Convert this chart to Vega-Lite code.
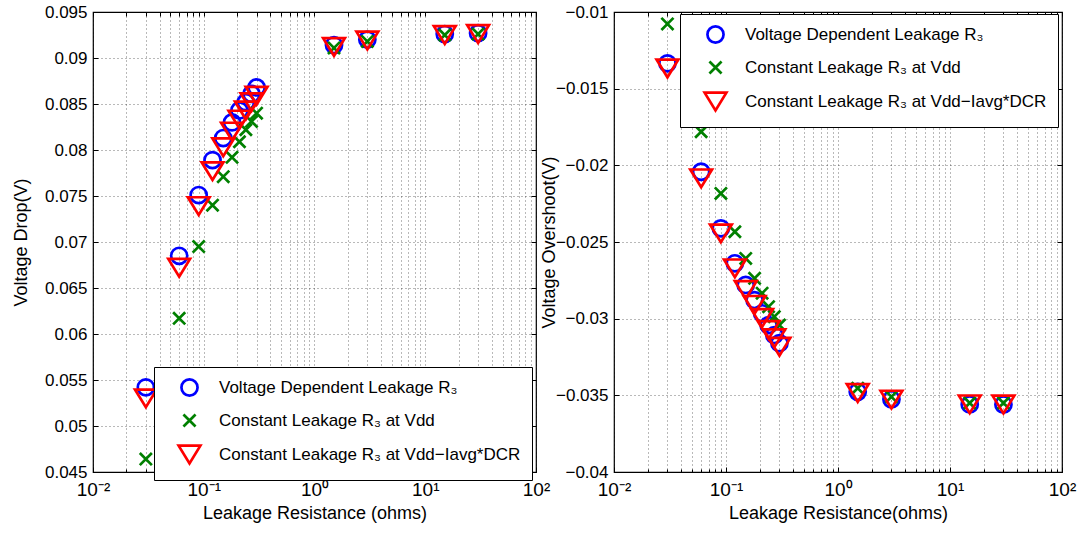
{
  "$schema": "https://vega.github.io/schema/vega-lite/v6.json",
  "padding": {"left": 11, "top": 2, "right": 0, "bottom": 0},
  "bounds": "flush",
  "spacing": 78,
  "resolve": {"scale": {"color": "independent", "shape": "independent"}, "legend": {"color": "independent", "shape": "independent"}},
  "data": {"values": [
    {"r": 0.03, "s": "vdep", "drop": 0.0542, "over": -0.01335},
    {"r": 0.06, "s": "vdep", "drop": 0.0685, "over": -0.02042},
    {"r": 0.09, "s": "vdep", "drop": 0.0751, "over": -0.02411},
    {"r": 0.12, "s": "vdep", "drop": 0.0789, "over": -0.02639},
    {"r": 0.15, "s": "vdep", "drop": 0.0813, "over": -0.0278},
    {"r": 0.18, "s": "vdep", "drop": 0.0830, "over": -0.02879},
    {"r": 0.21, "s": "vdep", "drop": 0.0843, "over": -0.02965},
    {"r": 0.24, "s": "vdep", "drop": 0.0852, "over": -0.03042},
    {"r": 0.27, "s": "vdep", "drop": 0.0861, "over": -0.03107},
    {"r": 0.3, "s": "vdep", "drop": 0.0868, "over": -0.0316},
    {"r": 1.5, "s": "vdep", "drop": 0.0914, "over": -0.03477},
    {"r": 3, "s": "vdep", "drop": 0.0920, "over": -0.03526},
    {"r": 15, "s": "vdep", "drop": 0.0926, "over": -0.03559},
    {"r": 30, "s": "vdep", "drop": 0.0927, "over": -0.0356},
    {"r": 0.03, "s": "cvdd", "drop": 0.0464, "over": -0.01078},
    {"r": 0.06, "s": "cvdd", "drop": 0.0617, "over": -0.01781},
    {"r": 0.09, "s": "cvdd", "drop": 0.0695, "over": -0.02183},
    {"r": 0.12, "s": "cvdd", "drop": 0.0740, "over": -0.02433},
    {"r": 0.15, "s": "cvdd", "drop": 0.0771, "over": -0.02607},
    {"r": 0.18, "s": "cvdd", "drop": 0.0792, "over": -0.02737},
    {"r": 0.21, "s": "cvdd", "drop": 0.0809, "over": -0.02834},
    {"r": 0.24, "s": "cvdd", "drop": 0.0822, "over": -0.02922},
    {"r": 0.27, "s": "cvdd", "drop": 0.0831, "over": -0.02987},
    {"r": 0.3, "s": "cvdd", "drop": 0.0840, "over": -0.03042},
    {"r": 1.5, "s": "cvdd", "drop": 0.0911, "over": -0.03453},
    {"r": 3, "s": "cvdd", "drop": 0.0918, "over": -0.0351},
    {"r": 15, "s": "cvdd", "drop": 0.0925, "over": -0.0355},
    {"r": 30, "s": "cvdd", "drop": 0.0926, "over": -0.0355},
    {"r": 0.03, "s": "cvddi", "drop": 0.0530, "over": -0.01368},
    {"r": 0.06, "s": "cvddi", "drop": 0.0672, "over": -0.02085},
    {"r": 0.09, "s": "cvddi", "drop": 0.0739, "over": -0.02444},
    {"r": 0.12, "s": "cvddi", "drop": 0.0777, "over": -0.02672},
    {"r": 0.15, "s": "cvddi", "drop": 0.0803, "over": -0.02813},
    {"r": 0.18, "s": "cvddi", "drop": 0.0820, "over": -0.0291},
    {"r": 0.21, "s": "cvddi", "drop": 0.0833, "over": -0.02996},
    {"r": 0.24, "s": "cvddi", "drop": 0.0843, "over": -0.03074},
    {"r": 0.27, "s": "cvddi", "drop": 0.0852, "over": -0.03128},
    {"r": 0.3, "s": "cvddi", "drop": 0.0859, "over": -0.03183},
    {"r": 1.5, "s": "cvddi", "drop": 0.0912, "over": -0.03485},
    {"r": 3, "s": "cvddi", "drop": 0.0919, "over": -0.03528},
    {"r": 15, "s": "cvddi", "drop": 0.0925, "over": -0.03559},
    {"r": 30, "s": "cvddi", "drop": 0.0926, "over": -0.0356}
  ]},
  "hconcat": [
    {
      "width": 443,
      "height": 460,
      "resolve": {"axis": {"x": "independent", "y": "independent"}},
      "layer": [
        {
          "transform": [{"filter": "datum.s === 'vdep'"}],
          "mark": {"type": "point", "filled": false, "strokeWidth": 2.7, "size": 260, "opacity": 1},
          "encoding": {
            "x": {"field": "r", "type": "quantitative",
              "scale": {"type": "log", "domain": [0.01, 100], "nice": false},
              "axis": {"orient": "bottom", "values": [0.01, 0.1, 1, 10, 100], "labelExpr": "datum.value < 0.05 ? '10⁻²' : datum.value < 0.5 ? '10⁻¹' : datum.value < 5 ? '10⁰' : datum.value < 50 ? '10¹' : '10²'", "labelFontSize": 19, "grid": true, "tickSize": -5, "labelPadding": 13, "labelOverlap": false, "labelFlush": false, "title": "Leakage Resistance (ohms)", "titlePadding": 5}},
            "y": {"field": "drop", "type": "quantitative",
              "scale": {"domain": [0.045, 0.095], "nice": false, "zero": false},
              "axis": {"orient": "left", "values": [0.045, 0.05, 0.055, 0.06, 0.065, 0.07, 0.075, 0.08, 0.085, 0.09, 0.095], "format": "~g", "grid": true, "tickSize": -5, "labelPadding": 11, "labelOverlap": false, "labelFlush": false, "title": "Voltage Drop(V)", "titlePadding": 14}},
            "color": {"field": "s", "type": "nominal", "scale": {"domain": ["vdep", "cvdd", "cvddi"], "range": ["#0000ff", "#008000", "#ff0000"]},
              "legend": {"title": null, "orient": "none", "legendX": 61, "legendY": 355, "labelExpr": "datum.label == 'vdep' ? 'Voltage Dependent Leakage R₃' : datum.label == 'cvdd' ? 'Constant Leakage R₃ at Vdd' : 'Constant Leakage R₃ at Vdd−Iavg*DCR'"}},
            "shape": {"field": "s", "type": "nominal", "scale": {"domain": ["vdep", "cvdd", "cvddi"], "range": ["circle", "M-0.75,-0.75L0.75,0.75M-0.75,0.75L0.75,-0.75", "M-1.35,-1.1L1.35,-1.1L0,1.1Z"]},
              "legend": {"title": null, "orient": "none", "legendX": 61, "legendY": 355, "labelExpr": "datum.label == 'vdep' ? 'Voltage Dependent Leakage R₃' : datum.label == 'cvdd' ? 'Constant Leakage R₃ at Vdd' : 'Constant Leakage R₃ at Vdd−Iavg*DCR'"}}
          }
        },
        {
          "transform": [{"filter": "datum.s === 'cvdd'"}],
          "mark": {"type": "point", "filled": false, "strokeWidth": 2.7, "size": 260, "opacity": 1},
          "encoding": {
            "x": {"field": "r", "type": "quantitative",
              "axis": {"orient": "bottom", "values": [0.02, 0.03, 0.04, 0.05, 0.06, 0.07, 0.08, 0.09, 0.2, 0.3, 0.4, 0.5, 0.6, 0.7, 0.8, 0.9, 2, 3, 4, 5, 6, 7, 8, 9, 20, 30, 40, 50, 60, 70, 80, 90], "labels": false, "grid": true, "tickSize": -3, "title": null}},
            "y": {"field": "drop", "type": "quantitative",
              "axis": {"orient": "right", "values": [0.045, 0.05, 0.055, 0.06, 0.065, 0.07, 0.075, 0.08, 0.085, 0.09, 0.095], "labels": false, "grid": false, "tickSize": -5, "title": null}},
            "color": {"field": "s", "type": "nominal"},
            "shape": {"field": "s", "type": "nominal"}
          }
        },
        {
          "transform": [{"filter": "datum.s === 'cvddi'"}],
          "mark": {"type": "point", "filled": false, "strokeWidth": 2.7, "size": 260, "opacity": 1},
          "encoding": {
            "x": {"field": "r", "type": "quantitative",
              "axis": {"orient": "top", "values": [0.01, 0.02, 0.03, 0.04, 0.05, 0.06, 0.07, 0.08, 0.09, 0.1, 0.2, 0.3, 0.4, 0.5, 0.6, 0.7, 0.8, 0.9, 1, 2, 3, 4, 5, 6, 7, 8, 9, 10, 20, 30, 40, 50, 60, 70, 80, 90, 100], "labels": false, "grid": false, "tickSize": -4, "title": null}},
            "y": {"field": "drop", "type": "quantitative", "axis": null},
            "color": {"field": "s", "type": "nominal"},
            "shape": {"field": "s", "type": "nominal"}
          }
        }
      ]
    },
    {
      "width": 448,
      "height": 460,
      "resolve": {"axis": {"x": "independent", "y": "independent"}},
      "layer": [
        {
          "transform": [{"filter": "datum.s === 'vdep'"}],
          "mark": {"type": "point", "filled": false, "strokeWidth": 2.7, "size": 260, "opacity": 1},
          "encoding": {
            "x": {"field": "r", "type": "quantitative",
              "scale": {"type": "log", "domain": [0.01, 100], "nice": false},
              "axis": {"orient": "bottom", "values": [0.01, 0.1, 1, 10, 100], "labelExpr": "datum.value < 0.05 ? '10⁻²' : datum.value < 0.5 ? '10⁻¹' : datum.value < 5 ? '10⁰' : datum.value < 50 ? '10¹' : '10²'", "labelFontSize": 19, "grid": true, "tickSize": -5, "labelPadding": 13, "labelOverlap": false, "labelFlush": false, "title": "Leakage Resistance(ohms)", "titlePadding": 5}},
            "y": {"field": "over", "type": "quantitative",
              "scale": {"domain": [-0.04, -0.01], "nice": false, "zero": false},
              "axis": {"orient": "left", "values": [-0.04, -0.035, -0.03, -0.025, -0.02, -0.015, -0.01], "format": "~g", "grid": true, "tickSize": -5, "labelPadding": 11, "labelOverlap": false, "labelFlush": false, "title": "Voltage Overshoot(V)", "titlePadding": -3}},
            "color": {"field": "s", "type": "nominal", "scale": {"domain": ["vdep", "cvdd", "cvddi"], "range": ["#0000ff", "#008000", "#ff0000"]},
              "legend": {"title": null, "orient": "none", "legendX": 66, "legendY": 2, "labelExpr": "datum.label == 'vdep' ? 'Voltage Dependent Leakage R₃' : datum.label == 'cvdd' ? 'Constant Leakage R₃ at Vdd' : 'Constant Leakage R₃ at Vdd−Iavg*DCR'"}},
            "shape": {"field": "s", "type": "nominal", "scale": {"domain": ["vdep", "cvdd", "cvddi"], "range": ["circle", "M-0.75,-0.75L0.75,0.75M-0.75,0.75L0.75,-0.75", "M-1.35,-1.1L1.35,-1.1L0,1.1Z"]},
              "legend": {"title": null, "orient": "none", "legendX": 66, "legendY": 2, "labelExpr": "datum.label == 'vdep' ? 'Voltage Dependent Leakage R₃' : datum.label == 'cvdd' ? 'Constant Leakage R₃ at Vdd' : 'Constant Leakage R₃ at Vdd−Iavg*DCR'"}}
          }
        },
        {
          "transform": [{"filter": "datum.s === 'cvdd'"}],
          "mark": {"type": "point", "filled": false, "strokeWidth": 2.7, "size": 260, "opacity": 1},
          "encoding": {
            "x": {"field": "r", "type": "quantitative",
              "axis": {"orient": "bottom", "values": [0.02, 0.03, 0.04, 0.05, 0.06, 0.07, 0.08, 0.09, 0.2, 0.3, 0.4, 0.5, 0.6, 0.7, 0.8, 0.9, 2, 3, 4, 5, 6, 7, 8, 9, 20, 30, 40, 50, 60, 70, 80, 90], "labels": false, "grid": true, "tickSize": -3, "title": null}},
            "y": {"field": "over", "type": "quantitative",
              "axis": {"orient": "right", "values": [-0.04, -0.035, -0.03, -0.025, -0.02, -0.015, -0.01], "labels": false, "grid": false, "tickSize": -5, "title": null}},
            "color": {"field": "s", "type": "nominal"},
            "shape": {"field": "s", "type": "nominal"}
          }
        },
        {
          "transform": [{"filter": "datum.s === 'cvddi'"}],
          "mark": {"type": "point", "filled": false, "strokeWidth": 2.7, "size": 260, "opacity": 1},
          "encoding": {
            "x": {"field": "r", "type": "quantitative",
              "axis": {"orient": "top", "values": [0.01, 0.02, 0.03, 0.04, 0.05, 0.06, 0.07, 0.08, 0.09, 0.1, 0.2, 0.3, 0.4, 0.5, 0.6, 0.7, 0.8, 0.9, 1, 2, 3, 4, 5, 6, 7, 8, 9, 10, 20, 30, 40, 50, 60, 70, 80, 90, 100], "labels": false, "grid": false, "tickSize": -4, "title": null}},
            "y": {"field": "over", "type": "quantitative", "axis": null},
            "color": {"field": "s", "type": "nominal"},
            "shape": {"field": "s", "type": "nominal"}
          }
        }
      ]
    }
  ],
  "config": {
    "font": "Liberation Sans",
    "view": {"stroke": "black", "strokeWidth": 1.2},
    "axis": {
      "domain": false,
      "labelFont": "Liberation Sans", "labelFontSize": 17, "labelColor": "black",
      "titleFont": "Liberation Sans", "titleFontSize": 18, "titleFontWeight": "normal", "titleColor": "black",
      "tickColor": "black", "tickWidth": 1,
      "gridColor": "#000000", "gridOpacity": 0.55, "gridDash": [1, 3], "gridWidth": 1
    },
    "legend": {
      "strokeColor": "black", "fillColor": "white", "padding": 11,
      "labelFont": "Liberation Sans", "labelFontSize": 17, "labelColor": "black", "labelLimit": 0,
      "symbolSize": 260, "symbolStrokeWidth": 2.7, "rowPadding": 8,
      "symbolOffset": 15, "labelOffset": 20
    }
  }
}
